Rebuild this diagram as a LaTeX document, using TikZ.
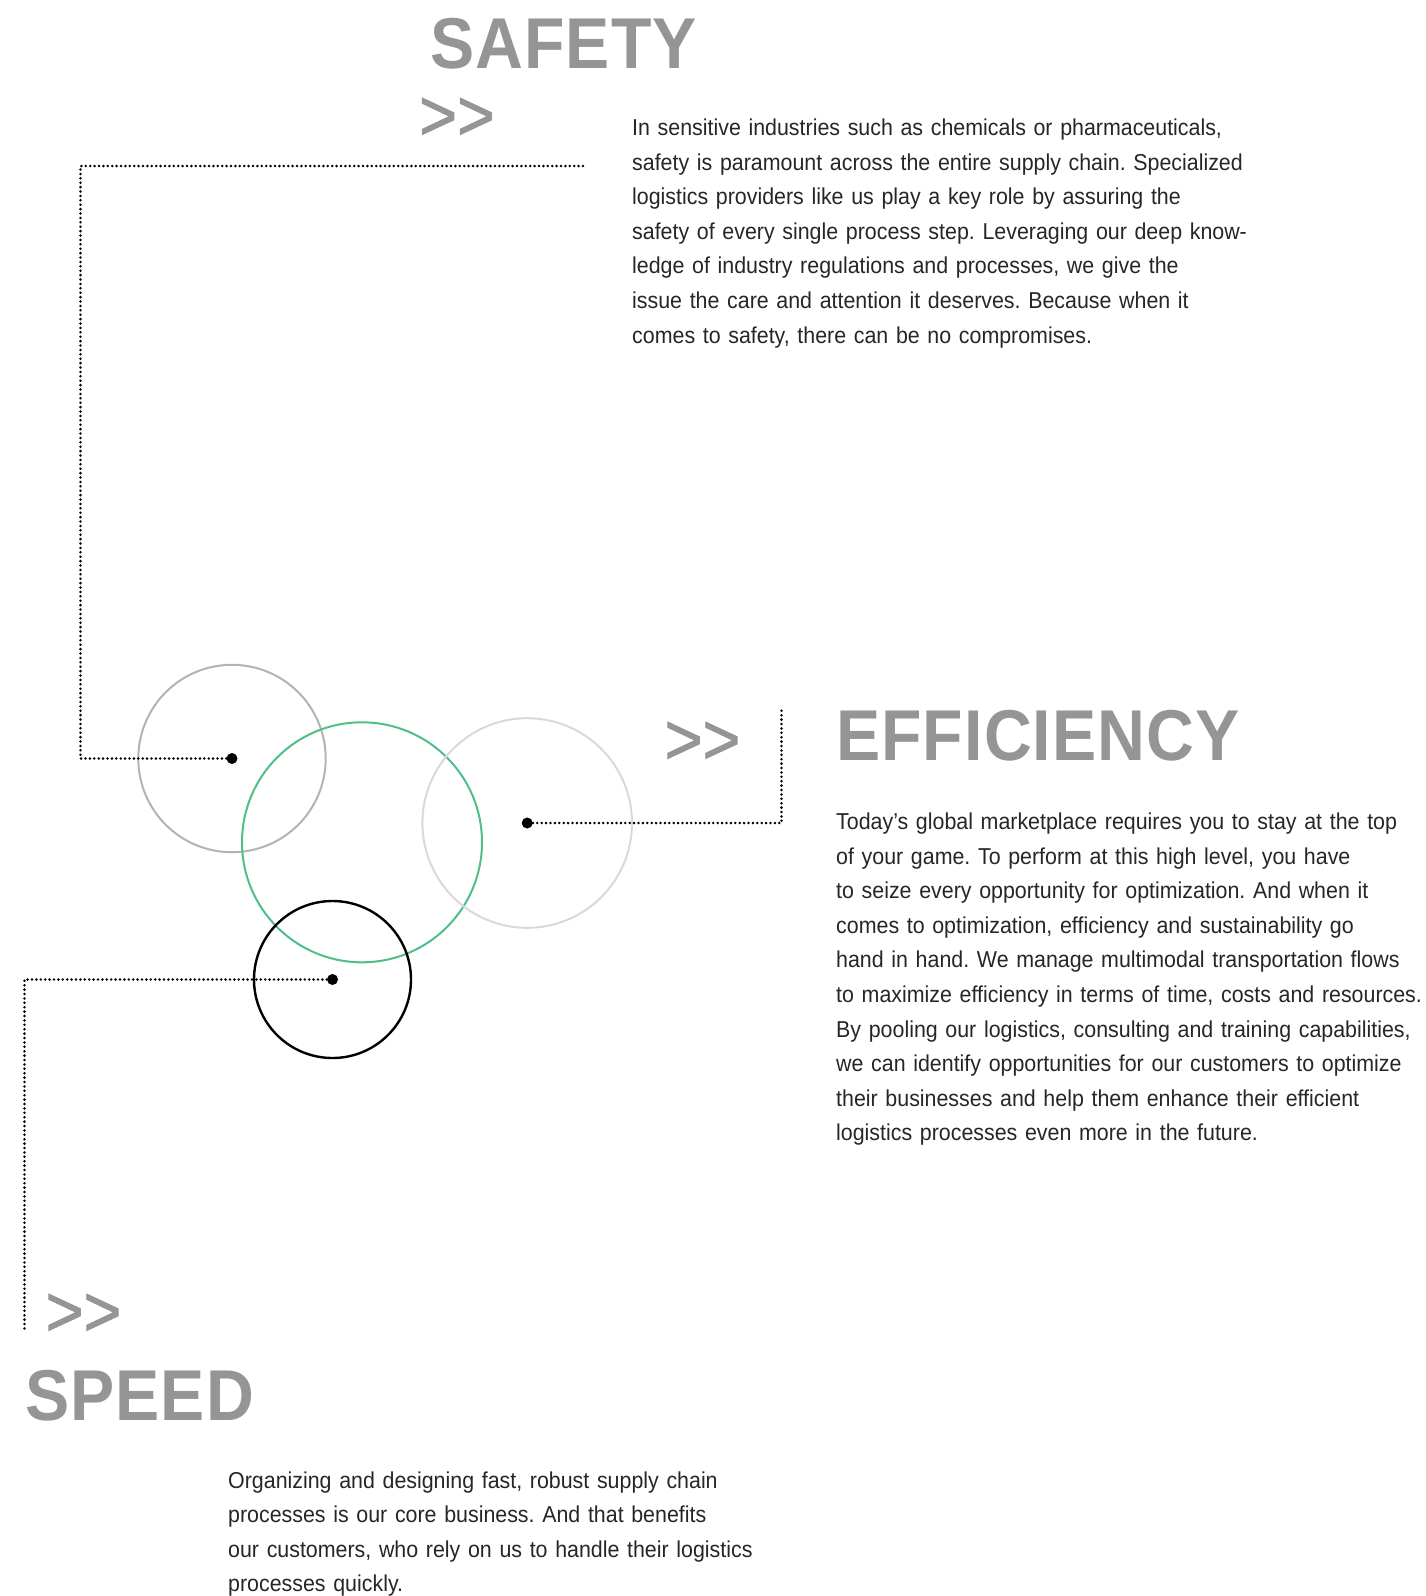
\documentclass[tikz,border=0pt]{standalone}
\usepackage{fontspec}
\setmainfont{Liberation Sans}
\newfontfamily\bodyfont{Liberation Sans}[FakeStretch=0.93]
\newfontfamily\headfont{Liberation Sans}[FakeStretch=0.92, LetterSpace=1.5]
\newfontfamily\markfont{Liberation Sans}[FakeStretch=0.9, FakeBold=1.2]
\definecolor{headgray}{HTML}{959595}
\definecolor{textgray}{HTML}{262626}
\definecolor{ringgray}{HTML}{B3B3B3}
\definecolor{ringlight}{HTML}{D9D9D9}
\definecolor{ringgreen}{HTML}{4FBE89}
\tikzset{
    ring/.style={circle, inner sep=0pt, line width=2pt},
    hub/.style={circle, fill=black, inner sep=0pt, minimum size=11pt},
    leader/.style={line width=2.8pt, line cap=round, dash pattern=on 0pt off 4.4pt},
    heading/.style={anchor=base west, inner sep=0pt, text=headgray,
        font=\headfont\bfseries\fontsize{72}{72}\selectfont},
    chevrons/.style={anchor=base west, inner sep=0pt, text=headgray,
        font=\markfont\fontsize{72}{72}\selectfont},
    bodytext/.style={anchor=base west, inner sep=0pt, text=textgray, align=left,
        text width=720pt, font=\bodyfont\frenchspacing\fontsize{23}{34.6}\selectfont}
}
\begin{document}
\begin{tikzpicture}[x=1pt, y=-1pt]
        \useasboundingbox (0,0) rectangle (1426,1596);

        \node[ring, draw=ringgray, minimum size=187.4pt] (safetyring) at (232,758.5) {};
        \node[ring, draw=ringgreen, minimum size=240pt] (mainring) at (362,842.3) {};
        \node[ring, draw=ringlight, minimum size=209.6pt] (efficiencyring) at (527.2,823) {};
        \node[ring, draw=black, line width=2.4pt, minimum size=157pt] (speedring) at (332.5,979.5) {};

        \node[hub] (safetydot) at (safetyring.center) {};
        \node[hub] (efficiencydot) at (efficiencyring.center) {};
        \node[hub] (speeddot) at (speedring.center) {};

        \coordinate (safetybend) at (80.5,166);
        \coordinate (safetyend) at (587,166);
        \coordinate (efficiencyend) at (781.5,709.5);
        \coordinate (speedend) at (24.5,1331);

        \draw[leader] (safetydot) -| (safetybend) -- (safetyend);
        \draw[leader] (efficiencydot) -| (efficiencyend);
        \draw[leader] (speeddot) -| (speedend);

        \node[heading] (safetytitle) at (430,68) {SAFETY};
        \node[chevrons] (safetymark) at (419,140) {>>};
        \node[bodytext] (safetytext) at (632,135.5) {In sensitive industries such as chemicals or pharmaceuticals,\\
            safety is paramount across the entire supply chain. Specialized\\
            logistics providers like us play a key role by assuring the\\
            safety of every single process step. Leveraging our deep know-\\
            ledge of industry regulations and processes, we give the\\
            issue the care and attention it deserves. Because when it\\
            comes to safety, there can be no compromises.};

        \node[chevrons] (efficiencymark) at (664.5,764) {>>};
        \node[heading] (efficiencytitle) at (836,760) {EFFICIENCY};
        \node[bodytext] (efficiencytext) at (836,829.5) {Today’s global marketplace requires you to stay at the top\\
            of your game. To perform at this high level, you have\\
            to seize every opportunity for optimization. And when it\\
            comes to optimization, efficiency and sustainability go\\
            hand in hand. We manage multimodal transportation flows\\
            to maximize efficiency in terms of time, costs and resources.\\
            By pooling our logistics, consulting and training capabilities,\\
            we can identify opportunities for our customers to optimize\\
            their businesses and help them enhance their efficient\\
            logistics processes even more in the future.};

        \node[chevrons] (speedmark) at (45.5,1336) {>>};
        \node[heading] (speedtitle) at (25,1420) {SPEED};
        \node[bodytext] (speedtext) at (228,1488) {Organizing and designing fast, robust supply chain\\
            processes is our core business. And that benefits\\
            our customers, who rely on us to handle their logistics\\
            processes quickly.};

    \end{tikzpicture}
\end{document}
